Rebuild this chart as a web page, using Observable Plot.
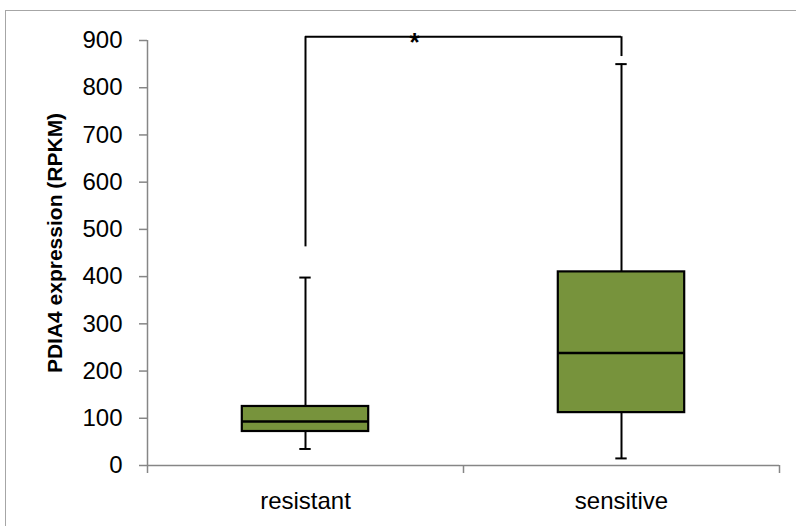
<!DOCTYPE html>
<html>
<head>
<meta charset="utf-8">
<script src="https://cdn.jsdelivr.net/npm/d3@7"></script>
<script src="https://cdn.jsdelivr.net/npm/@observablehq/plot@0.6"></script>
<style>
  html, body { margin: 0; padding: 0; background: #fff; }
  #wrap { position: relative; width: 796px; height: 526px; overflow: hidden; }
  #frame { position: absolute; left: 5px; top: 10px; width: 820px; height: 560px; border: 1.5px solid #a6a6a6; box-sizing: border-box; }
  #chart { position: absolute; left: 0; top: 0; }
</style>
</head>
<body>
<div id="wrap"><div id="frame"></div><div id="chart"></div></div>
<script>
const categories = ["resistant", "sensitive"];
const whiskerLow = [35, 15];
const q1 = [72, 112];
const median = [93, 238];
const q3 = [125, 410];
const whiskerHigh = [398, 850];
const yTicks = [0, 100, 200, 300, 400, 500, 600, 700, 800, 900];
const yLabel = "PDIA4 expression (RPKM)";
// significance bracket: bottom of each leg and the bar height
const bracketLegBottom = [463, 866];
const bracketTop = 908;
const sigLabel = "*";

const boxes = categories.map((c, i) => ({
  pos: i + 1, cat: c, lo: whiskerLow[i], q1: q1[i], med: median[i], q3: q3[i], hi: whiskerHigh[i], leg: bracketLegBottom[i]
}));

const gray = "#868686";
const boxHalf = 0.2;
const capHalf = 0.018;

const chart = Plot.plot({
  width: 796,
  height: 526,
  marginLeft: 147,
  marginRight: 17,
  marginTop: 40,
  marginBottom: 61,
  style: { fontFamily: "'Liberation Sans', Arial, sans-serif", background: "transparent" },
  x: { type: "linear", domain: [0.5, categories.length + 0.5] },
  y: { domain: [0, 900] },
  marks: [
    // axis lines
    Plot.ruleX([0.5], { y1: 0, y2: 900, stroke: gray, strokeWidth: 1.5 }),
    Plot.ruleY([0], { x1: 0.5, x2: categories.length + 0.5, stroke: gray, strokeWidth: 1.5 }),
    Plot.axisY({ ticks: yTicks, tickSize: 8, tickPadding: 17, stroke: gray, strokeWidth: 1.5, fill: "black", fontSize: 24, label: null }),
    Plot.axisX({ ticks: d3.range(0.5, categories.length + 1, 1), tickSize: 8, stroke: gray, strokeWidth: 1.5, tickFormat: () => "", label: null }),
    Plot.axisX({ ticks: boxes.map(b => b.pos), tickSize: 0, tickPadding: 26, tickFormat: p => categories[p - 1], fill: "black", fontSize: 24, label: null }),
    // whiskers
    Plot.ruleX(boxes, { x: "pos", y1: "lo", y2: "hi", stroke: "black", strokeWidth: 2 }),
    Plot.ruleY(boxes, { y: "lo", x1: d => d.pos - capHalf, x2: d => d.pos + capHalf, stroke: "black", strokeWidth: 2 }),
    Plot.ruleY(boxes, { y: "hi", x1: d => d.pos - capHalf, x2: d => d.pos + capHalf, stroke: "black", strokeWidth: 2 }),
    // boxes
    Plot.rect(boxes, { x1: d => d.pos - boxHalf, x2: d => d.pos + boxHalf, y1: "q1", y2: "q3", fill: "#77933C", stroke: "black", strokeWidth: 2.2 }),
    Plot.ruleY(boxes, { y: "med", x1: d => d.pos - boxHalf, x2: d => d.pos + boxHalf, stroke: "black", strokeWidth: 2.5 }),
    // significance bracket
    Plot.ruleX(boxes, { x: "pos", y1: "leg", y2: bracketTop, stroke: "black", strokeWidth: 2 }),
    Plot.ruleY([bracketTop], { x1: 1, x2: categories.length, stroke: "black", strokeWidth: 2 }),
    Plot.text([sigLabel], { x: 1.345, y: bracketTop, text: d => d, fontSize: 26, fontWeight: "bold", dy: 6, fill: "black" }),
    // y label
    Plot.text([yLabel], { frameAnchor: "left", text: d => d, textAnchor: "middle", rotate: -90, dx: -92, dy: -10, fontSize: 21, fontWeight: "bold", fill: "black" })
  ]
});
chart.style.overflow = "visible";
document.getElementById("chart").appendChild(chart);
</script>
</body>
</html>
